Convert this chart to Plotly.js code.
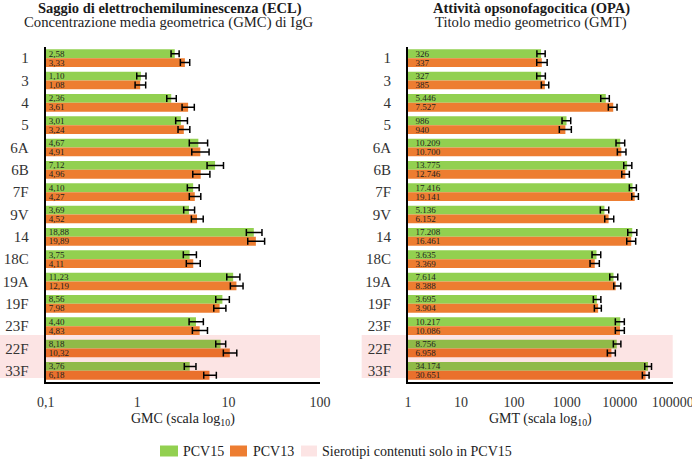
<!DOCTYPE html>
<html>
<head>
<meta charset="utf-8">
<script src="https://cdn.plot.ly/plotly-3.0.1.min.js"></script>
<style>
  html, body { margin: 0; padding: 0; background: #fff; }
  #chart { width: 692px; height: 459px; }
</style>
</head>
<body>
<div id="chart"></div>
<script>
// ---- data ----
var serotypes = ['1','3','4','5','6A','6B','7F','9V','14','18C','19A','19F','23F','22F','33F'];
var pcv15Only = ['22F','33F'];

var gmcPCV15    = [2.58, 1.10, 2.36, 3.01, 4.67, 7.12, 4.10, 3.69, 18.88, 3.75, 11.23, 8.56, 4.40, 8.18, 3.76];
var gmcPCV15Lo  = [2.35, 0.99, 2.11, 2.64, 3.72, 5.82, 3.54, 3.23, 15.65, 3.20, 9.56, 7.24, 3.70, 7.24, 3.28];
var gmcPCV15Hi  = [2.88, 1.25, 2.68, 3.55, 5.90, 8.80, 4.77, 4.25, 23.2, 4.45, 13.3, 10.2, 5.30, 9.30, 4.40];
var gmcPCV13    = [3.33, 1.08, 3.61, 3.24, 4.91, 4.96, 4.27, 4.52, 19.89, 4.11, 12.19, 7.98, 4.83, 10.32, 6.18];
var gmcPCV13Lo  = [2.97, 0.95, 3.10, 2.80, 3.96, 4.06, 3.72, 3.92, 16.2, 3.45, 10.46, 6.89, 4.02, 8.77, 5.35];
var gmcPCV13Hi  = [3.76, 1.24, 4.22, 3.77, 6.12, 6.25, 4.97, 5.28, 24.8, 4.90, 14.4, 9.35, 5.88, 12.3, 7.35];

var opaPCV15    = [326, 327, 5446, 986, 10209, 13775, 17416, 5136, 17208, 3635, 7614, 3695, 10217, 8756, 34174];
var opaPCV15Lo  = [272, 270, 4370, 812, 8500, 11890, 15170, 4296, 14155, 2994, 6466, 3169, 8250, 7562, 29650];
var opaPCV15Hi  = [390, 393, 6350, 1185, 12400, 16900, 20600, 6190, 21000, 4370, 9160, 4400, 12200, 10500, 39800];
var opaPCV13    = [337, 385, 7527, 940, 10700, 12746, 19141, 6152, 16461, 3369, 8388, 3904, 10086, 6958, 30651];
var opaPCV13Lo  = [270, 330, 6085, 722, 9000, 10900, 16840, 5203, 13550, 2745, 7694, 3311, 8250, 5826, 26700];
var opaPCV13Hi  = [425, 455, 8880, 1217, 13100, 15170, 22500, 7690, 20000, 4113, 10430, 4487, 12200, 8250, 35800];

var gmcTickVals = [0.1, 1, 10, 100];
var gmcTickText = ['0,1', '1', '10', '100'];
var opaTickVals = [1, 10, 100, 1000, 10000, 100000];
var opaTickText = ['1', '10', '100', '1000', '10000', '100000'];

var seriesNames = ['PCV15', 'PCV13'];
var highlightLabel = 'Sierotipi contenuti solo in PCV15';

// ---- styles ----
var GREEN = [146, 208, 80], ORANGE = [237, 125, 49], PINK = [252, 228, 228];
var FONT = 'Liberation Serif, Times New Roman, serif';

function rgb(c) { return 'rgb(' + c.join(',') + ')'; }
function multiply(c, m) { return c.map(function (v, i) { return Math.round(v * m[i] / 255); }); }
function barColors(base) {
  return serotypes.map(function (s) {
    return pcv15Only.indexOf(s) >= 0 ? rgb(multiply(base, PINK)) : rgb(base);
  });
}

function fmtComma(v) { return v.toFixed(2).replace('.', ','); }
function fmtThousands(v) { return String(v).replace(/\B(?=(\d{3})+(?!\d))/g, '.'); }

function makeTrace(vals, lo, hi, base, color, name, xa, ya, fmt, tmpl) {
  return {
    type: 'bar', orientation: 'h', name: name,
    y: serotypes,
    x: vals.map(function (v) { return v - base; }),
    base: base,
    xaxis: xa, yaxis: ya,
    marker: { color: barColors(color), line: { width: 0 } },
    text: vals.map(fmt),
    texttemplate: tmpl,
    textposition: 'inside',
    insidetextanchor: 'start',
    constraintext: 'none',
    insidetextfont: { family: FONT, size: 9, color: '#1e1e1e' },
    error_x: {
      type: 'data', symmetric: false,
      array: hi.map(function (h, i) { return h - vals[i]; }),
      arrayminus: lo.map(function (l, i) { return vals[i] - l; }),
      color: '#000', thickness: 1.5, width: 3.5
    },
    hoverinfo: 'skip', showlegend: false
  };
}

var data = [
  makeTrace(gmcPCV15, gmcPCV15Lo, gmcPCV15Hi, 0.1, GREEN, seriesNames[0], 'x', 'y', fmtComma, '%{text}'),
  makeTrace(gmcPCV13, gmcPCV13Lo, gmcPCV13Hi, 0.1, ORANGE, seriesNames[1], 'x', 'y', fmtComma, '%{text}'),
  makeTrace(opaPCV15, opaPCV15Lo, opaPCV15Hi, 1, GREEN, seriesNames[0], 'x2', 'y2', fmtThousands, '\u00a0\u00a0%{text}'),
  makeTrace(opaPCV13, opaPCV13Lo, opaPCV13Hi, 1, ORANGE, seriesNames[1], 'x2', 'y2', fmtThousands, '\u00a0\u00a0%{text}')
];

var W = 692, H = 459, MT = 47, MB = 77;
var PH = H - MT - MB;
function py(p) { return (H - MB - p) / PH; }   // pixel y -> paper y
function px(p) { return p / W; }               // pixel x -> paper x

var xBase = {
  type: 'log', showgrid: false, zeroline: false,
  showline: true, linecolor: '#000', linewidth: 2,
  ticks: '', ticklabelstandoff: 6, ticklabeloverflow: 'allow',
  tickfont: { family: FONT, size: 14, color: '#333' },
  fixedrange: true
};
var yBase = {
  type: 'category', categoryorder: 'array', categoryarray: serotypes,
  autorange: 'reversed', domain: [0, 1],
  showgrid: false, zeroline: false,
  showline: true, linecolor: '#000', linewidth: 2,
  ticks: '', ticklabelstandoff: 12,
  tickfont: { family: FONT, size: 15, color: '#333' },
  fixedrange: true
};

var layout = {
  width: W, height: H,
  margin: { l: 0, r: 0, t: MT, b: MB, pad: 0 },
  paper_bgcolor: '#fff', plot_bgcolor: 'rgba(0,0,0,0)',
  font: { family: FONT, color: '#222' },
  barmode: 'group', bargap: 0.21, bargroupgap: 0,
  showlegend: false,
  xaxis: Object.assign({}, xBase, {
    domain: [45.7 / W, 320 / W], range: [-1, 2], anchor: 'y',
    tickvals: gmcTickVals, ticktext: gmcTickText,
    title: { text: 'GMC (scala log<sub>10</sub>)', font: { family: FONT, size: 14, color: '#222' }, standoff: 4 }
  }),
  yaxis: Object.assign({}, yBase, { anchor: 'x' }),
  xaxis2: Object.assign({}, xBase, {
    domain: [408 / W, 672.7 / W], range: [0, 5], anchor: 'y2',
    tickvals: opaTickVals, ticktext: opaTickText,
    title: { text: 'GMT (scala log<sub>10</sub>)', font: { family: FONT, size: 14, color: '#222' }, standoff: 4 }
  }),
  yaxis2: Object.assign({}, yBase, { anchor: 'x2' }),
  shapes: [
    { type: 'rect', layer: 'below', xref: 'x domain', yref: 'y', x0: -0.1666, x1: 1, y0: 12.4, y1: 14.32,
      fillcolor: rgb(PINK), line: { width: 0 } },
    { type: 'rect', layer: 'below', xref: 'x2 domain', yref: 'y2', x0: -0.175, x1: 1, y0: 12.4, y1: 14.32,
      fillcolor: rgb(PINK), line: { width: 0 } },
    // legend swatches
    { type: 'rect', layer: 'below', xref: 'paper', yref: 'paper', x0: px(160), x1: px(178), y0: py(445.5), y1: py(456.5),
      fillcolor: rgb(GREEN), line: { width: 0 } },
    { type: 'rect', layer: 'below', xref: 'paper', yref: 'paper', x0: px(230), x1: px(247), y0: py(445.5), y1: py(456.5),
      fillcolor: rgb(ORANGE), line: { width: 0 } },
    { type: 'rect', layer: 'below', xref: 'paper', yref: 'paper', x0: px(301), x1: px(317), y0: py(445.5), y1: py(456.5),
      fillcolor: rgb(PINK), line: { width: 0 } }
  ],
  annotations: [
    { text: '<b>Saggio di elettrochemiluminescenza (ECL)</b>', xref: 'paper', yref: 'paper', x: px(170), y: py(8.5),
      xanchor: 'center', yanchor: 'middle', showarrow: false, borderpad: 0, font: { family: FONT, size: 14.5, color: '#1a1a1a' } },
    { text: 'Concentrazione media geometrica (GMC) di IgG', xref: 'paper', yref: 'paper', x: px(169), y: py(23),
      xanchor: 'center', yanchor: 'middle', showarrow: false, borderpad: 0, font: { family: FONT, size: 14.7, color: '#222' } },
    { text: '<b>Attività opsonofagocitica (OPA)</b>', xref: 'paper', yref: 'paper', x: px(531.5), y: py(8.5),
      xanchor: 'center', yanchor: 'middle', showarrow: false, borderpad: 0, font: { family: FONT, size: 14.5, color: '#1a1a1a' } },
    { text: 'Titolo medio geometrico (GMT)', xref: 'paper', yref: 'paper', x: px(531), y: py(23),
      xanchor: 'center', yanchor: 'middle', showarrow: false, borderpad: 0, font: { family: FONT, size: 14.7, color: '#222' } },
    { text: seriesNames[0], xref: 'paper', yref: 'paper', x: px(180.5), y: py(451),
      xanchor: 'left', yanchor: 'middle', showarrow: false, font: { family: FONT, size: 14, color: '#222' } },
    { text: seriesNames[1], xref: 'paper', yref: 'paper', x: px(250.5), y: py(451),
      xanchor: 'left', yanchor: 'middle', showarrow: false, font: { family: FONT, size: 14, color: '#222' } },
    { text: highlightLabel, xref: 'paper', yref: 'paper', x: px(319.5), y: py(451),
      xanchor: 'left', yanchor: 'middle', showarrow: false, font: { family: FONT, size: 14, color: '#222' } }
  ]
};

Plotly.newPlot('chart', data, layout, { staticPlot: true, displayModeBar: false });
</script>
</body>
</html>
